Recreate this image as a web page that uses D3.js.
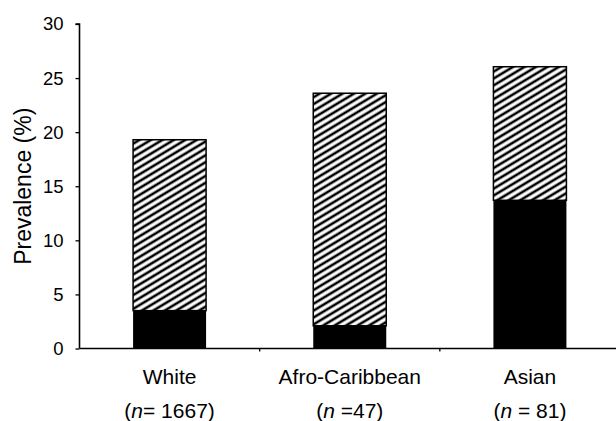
<!DOCTYPE html>
<html>
<head>
<meta charset="utf-8">
<script src="https://cdn.jsdelivr.net/npm/d3@7"></script>
<style>
  html, body { margin: 0; padding: 0; background: #fff; }
  svg { display: block; font-family: "Liberation Sans", Arial, Helvetica, sans-serif; }
</style>
</head>
<body>
<svg id="chart" width="616" height="421"></svg>
<script>
// ---- data ----
const categories = ["White", "Afro-Caribbean", "Asian"];
const nLabels = ["= 1667)", " =47)", " = 81)"];
const solidValues = [3.5, 2.1, 13.7];     // black lower segment
const hatchedValues = [15.8, 21.5, 12.35]; // hatched upper segment
const yTicks = [0, 5, 10, 15, 20, 25, 30];

// ---- layout ----
const svg = d3.select("#chart");
const x0 = 79.5, x1 = 620, yTop = 24, yBot = 348.5;

const x = d3.scaleBand().domain(categories).range([x0, x1]).paddingInner(0).paddingOuter(0);
const y = d3.scaleLinear().domain([0, 30]).range([yBot, yTop]);
const barW = 73;

// hatch pattern
const defs = svg.append("defs");
const pat = defs.append("pattern")
  .attr("id", "hatch")
  .attr("patternUnits", "userSpaceOnUse")
  .attr("width", 10)
  .attr("height", 5.9)
  .attr("patternTransform", "rotate(-31)");
pat.append("rect").attr("width", 10).attr("height", 5.9).attr("fill", "#fff");
pat.append("line")
  .attr("x1", 0).attr("x2", 10)
  .attr("y1", 2.95).attr("y2", 2.95)
  .attr("stroke", "#000").attr("stroke-width", 2.6);

const stackData = categories.map((c, i) => ({ c, solid: solidValues[i], hatched: hatchedValues[i] }));

const g = svg.append("g");

// hatched segments
g.selectAll("rect.hatch").data(stackData).enter().append("rect")
  .attr("class", "hatch")
  .attr("x", d => x(d.c) + x.bandwidth() / 2 - barW / 2)
  .attr("width", barW)
  .attr("y", d => y(d.solid + d.hatched))
  .attr("height", d => y(d.solid) - y(d.solid + d.hatched))
  .attr("fill", "url(#hatch)")
  .attr("stroke", "#000")
  .attr("stroke-width", 1.5);

// solid segments
g.selectAll("rect.solid").data(stackData).enter().append("rect")
  .attr("class", "solid")
  .attr("x", d => x(d.c) + x.bandwidth() / 2 - barW / 2)
  .attr("width", barW)
  .attr("y", d => y(d.solid))
  .attr("height", d => y(0) - y(d.solid))
  .attr("fill", "#000");

// y axis
const yAxis = d3.axisLeft(y).tickValues(yTicks).tickSize(4).tickPadding(12).tickFormat(d3.format("d"));
const ya = svg.append("g").attr("transform", `translate(${x0},0)`).call(yAxis);
ya.select(".domain").attr("stroke", "#000").attr("stroke-width", 1.6).attr("d", `M-4,${yTop}H0V${yBot}`);
ya.selectAll(".tick line").attr("stroke", "#000").attr("stroke-width", 1.3);
ya.selectAll(".tick text").attr("font-size", 18.5).attr("fill", "#000")
  .attr("font-family", '"Liberation Sans", Arial, sans-serif');

// x axis
const xa = svg.append("g").attr("transform", `translate(0,${yBot})`);
xa.append("line").attr("x1", x0).attr("x2", x1).attr("y1", 0).attr("y2", 0)
  .attr("stroke", "#000").attr("stroke-width", 1.6);
categories.slice(1).forEach(c => {
  xa.append("line").attr("x1", x(c)).attr("x2", x(c)).attr("y1", 0).attr("y2", 3)
    .attr("stroke", "#000").attr("stroke-width", 1.3);
});

// category labels
const lab = svg.append("g");
categories.forEach((c, i) => {
  const cx = x(c) + x.bandwidth() / 2;
  lab.append("text").attr("x", cx).attr("y", 384).attr("text-anchor", "middle")
    .attr("font-size", 21).attr("fill", "#000").text(c);
  const t = lab.append("text").attr("x", cx).attr("y", 418).attr("text-anchor", "middle")
    .attr("font-size", 21).attr("fill", "#000");
  t.append("tspan").text("(");
  t.append("tspan").attr("font-style", "italic").text("n");
  t.append("tspan").attr("xml:space", "preserve").text(nLabels[i]);
});

// y title
svg.append("text")
  .attr("transform", `translate(31,${(yTop + yBot) / 2}) rotate(-90)`)
  .attr("text-anchor", "middle")
  .attr("font-size", 23).attr("fill", "#000")
  .text("Prevalence (%)");
</script>
</body>
</html>
